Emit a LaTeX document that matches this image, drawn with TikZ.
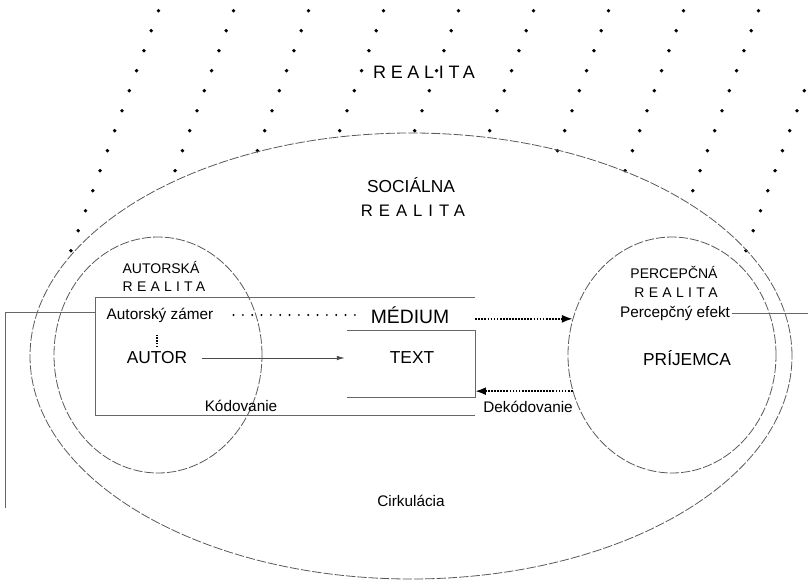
\documentclass[tikz,border=0pt]{standalone}
\usepackage{fontspec}
\setmainfont{Liberation Sans}
\usetikzlibrary{shapes.geometric, arrows.meta}

\begin{document}
\begin{tikzpicture}
        [x=0.75pt, y=-0.75pt, every node/.style={inner sep=1pt},
         ring/.style={draw=black!65, ellipse, inner sep=0pt, line width=0.6pt, dash pattern=on 7pt off 1.5pt},
         boxline/.style={draw=black!60, line width=0.6pt},
         smalltxt/.style={font=\fontsize{11.5}{13}\selectfont},
         headtxt/.style={font=\fontsize{10.5}{12}\selectfont},
         bigtxt/.style={font=\fontsize{13}{15}\selectfont},
         spacedtxt/.style 2 args={font=\fontsize{#1}{#1}\selectfont\addfontfeature{LetterSpace=#2}},
         darrow/.style={densely dotted, line width=1.3pt, -{Latex[length=8pt,width=6pt]}}]

        \useasboundingbox (0,0) rectangle (808,582);

        % dots of the outer reality
        \foreach \i in {0,...,12}
          \foreach \k in {0,...,9} {
            \pgfmathsetmacro\dotx{158.5+75*\k-7.3*\i}
            \pgfmathsetmacro\doty{10.7+20*\i}
            \pgfmathtruncatemacro\keep{and(((\dotx-411)/381)^2+((\doty-356)/223)^2>0.98, \dotx<806)}
            \ifnum\keep=1 \fill (\dotx,\doty) circle[radius=1.45pt]; \fi
          }

        \node[ring, minimum width=571.5pt, minimum height=334.5pt] (soc) at (411, 356) {};
        \node[ring, minimum width=156pt, minimum height=177pt] (auth) at (158, 355) {};
        \node[ring, minimum width=156pt, minimum height=177pt] (recv) at (672, 355) {};

        \node[spacedtxt={13.5}{26}] (real) at (424, 72) {REALITA};
        \node[font=\fontsize{13}{15}\selectfont] (socname) at (411, 185) {SOCIÁLNA};
        \node[spacedtxt={12.5}{36}] (socreal) at (413, 211) {REALITA};

        \node[headtxt] (authname) at (161, 267) {AUTORSKÁ};
        \node[spacedtxt={10.5}{30}] (authreal) at (164, 287) {REALITA};
        \node[headtxt] (percname) at (674, 272) {PERCEPČNÁ};
        \node[spacedtxt={10.5}{31}] (percreal) at (676, 293) {REALITA};

        \node[minimum width=284.5pt, minimum height=87.75pt] (medbox) at (285.35, 356.5) {};
        \node[minimum width=95.5pt, minimum height=50pt] (textbox) at (411.35, 364) {};
        \draw[boxline] (medbox.north east) -- (medbox.north west) -- (medbox.south west) -- (medbox.south east);
        \draw[boxline] (textbox.north west) -- (textbox.north east) -- (textbox.south east) -- (textbox.south west);

        \node[smalltxt] (zamer) at (160, 315) {Autorský zámer};
        \node[font=\fontsize{14.5}{16}\selectfont] (medium) at (410, 315) {MÉDIUM};
        \node[bigtxt] (autor) at (157, 358) {AUTOR};
        \node[bigtxt] (txt) at (412, 358) {TEXT};
        \node[smalltxt] (kod) at (241, 406) {Kódovanie};
        \node[smalltxt] (dekod) at (528, 407) {Dekódovanie};
        \node[smalltxt] (efekt) at (675, 313) {Percepčný efekt};
        \node[bigtxt] (prijemca) at (687, 358) {PRÍJEMCA};
        \node[smalltxt] (cirk) at (411, 501) {Cirkulácia};

        \coordinate (lhook) at (5.7, 312.5);
        \coordinate (ltail) at (5.7, 508);
        \coordinate (rend) at (808, 313);

        \draw[line width=1.6pt, line cap=round, dash pattern=on 0pt off 7pt, shorten <=14pt, shorten >=10pt] (zamer.east) -- (medium.west);
        \draw[densely dotted, line width=1.1pt, shorten <=8pt, shorten >=2.5pt] (autor.north |- zamer.south) -- (autor.north);
        \draw[draw=black!70, line width=0.6pt, -{Latex[length=6pt,width=3.5pt]}, shorten <=10pt, shorten >=2pt] (autor.east) -- (textbox.west |- autor);
        \draw[darrow] (medbox.east |- recv.160) -- (recv.160);
        \draw[darrow] (recv.200) -- (medbox.east |- recv.200);
        \draw[boxline] (medbox.west |- lhook) -- (lhook) -- (ltail);
        \draw[boxline] (efekt.east) -- (rend);

      \end{tikzpicture}
\end{document}
